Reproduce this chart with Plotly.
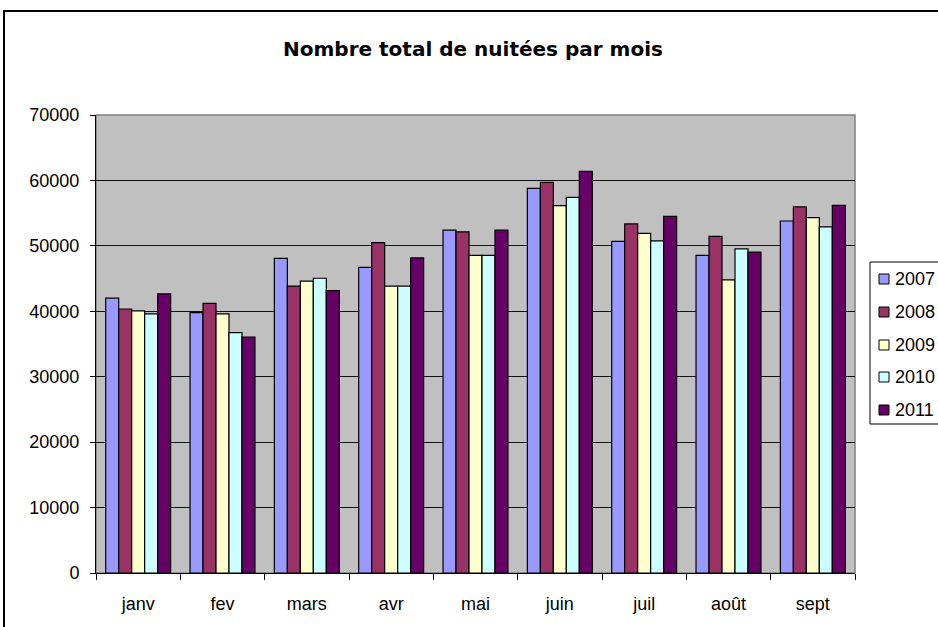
import plotly.graph_objects as go

months = ["janv", "fev", "mars", "avr", "mai", "juin", "juil", "août", "sept"]
years = ["2007", "2008", "2009", "2010", "2011"]
v2007 = [42000, 39800, 48100, 46700, 52400, 58800, 50700, 48550, 53800]
v2008 = [40350, 41200, 43850, 50500, 52150, 59700, 53350, 51450, 55950]
v2009 = [40050, 39600, 44600, 43850, 48550, 56150, 51900, 44800, 54300]
v2010 = [39600, 36750, 45050, 43850, 48550, 57400, 50750, 49550, 52900]
v2011 = [42650, 36050, 43150, 48150, 52400, 61400, 54500, 49050, 56200]
y_ticks = [0, 10000, 20000, 30000, 40000, 50000, 60000, 70000]

series = [v2007, v2008, v2009, v2010, v2011]
colors = ["#9999FF", "#993366", "#FFFFCC", "#CCFFFF", "#660066"]

W, H = 938, 627
L, R, T, B = 96, 83, 115, 54
pw, ph = W - L - R, H - T - B

def px(x):
    return (x - L) / pw

def py(y):
    return (H - B - y) / ph

fig = go.Figure()
for name, vals, col in zip(years, series, colors):
    fig.add_trace(go.Bar(
        x=months, y=vals, name=name, showlegend=False,
        marker=dict(color=col, line=dict(color="#000000", width=1.2)),
    ))

font = "Liberation Sans, Arial, sans-serif"
fig.update_layout(
    width=W, height=H,
    margin=dict(l=L, r=R, t=T, b=B, autoexpand=False),
    paper_bgcolor="white",
    plot_bgcolor="#C0C0C0",
    barmode="group",
    bargap=0.23,
    bargroupgap=0,
    font=dict(family=font, size=18, color="black"),
    title=dict(text="<b>Nombre total de nuitées par mois</b>", x=px(473), xanchor="center",
               xref="paper", y=1 - 49 / H, yanchor="middle",
               font=dict(size=20, family="DejaVu Sans, Verdana, sans-serif")),
    showlegend=False,
)
fig.update_xaxes(
    showline=True, linecolor="black", linewidth=1,
    ticks="outside", tickson="boundaries", ticklen=6, tickcolor="black",
    showgrid=False, ticklabelstandoff=14,
)
fig.update_yaxes(
    range=[0, 70000], tickvals=y_ticks, ticktext=[str(t) for t in y_ticks],
    showline=True, linecolor="black", linewidth=1,
    ticks="outside", ticklen=5, tickcolor="black",
    showgrid=True, gridcolor="#111111", gridwidth=1, zeroline=False,
    ticklabelstandoff=7,
)
# plot area gray border
fig.add_shape(type="rect", xref="paper", yref="paper", x0=0, y0=0, x1=1, y1=1,
              line=dict(color="#808080", width=1.5), layer="below")
# outer chart frame
fig.add_shape(type="rect", xref="paper", yref="paper",
              x0=px(4), y0=py(640), x1=px(950), y1=py(11),
              line=dict(color="black", width=2), layer="above")

# legend box (drawn by hand to match the original placement)
fig.add_shape(type="rect", xref="paper", yref="paper",
              x0=px(870), y0=py(424), x1=px(960), y1=py(262),
              line=dict(color="black", width=1), fillcolor="white", layer="above")
leg_y = [279, 312, 345, 377, 410]
for name, col, yy in zip(years, colors, leg_y):
    fig.add_shape(type="rect", xref="paper", yref="paper",
                  x0=px(879), x1=px(889), y0=py(yy + 5), y1=py(yy - 5),
                  line=dict(color="black", width=1), fillcolor=col, layer="above")
    fig.add_annotation(text=name, xref="paper", yref="paper", x=px(893), y=py(yy),
                       xanchor="left", yanchor="middle", showarrow=False,
                       font=dict(size=18, family=font, color="black"))

fig.write_html("out.html", config={"displayModeBar": False},
               post_script="document.body.style.margin='0';")
